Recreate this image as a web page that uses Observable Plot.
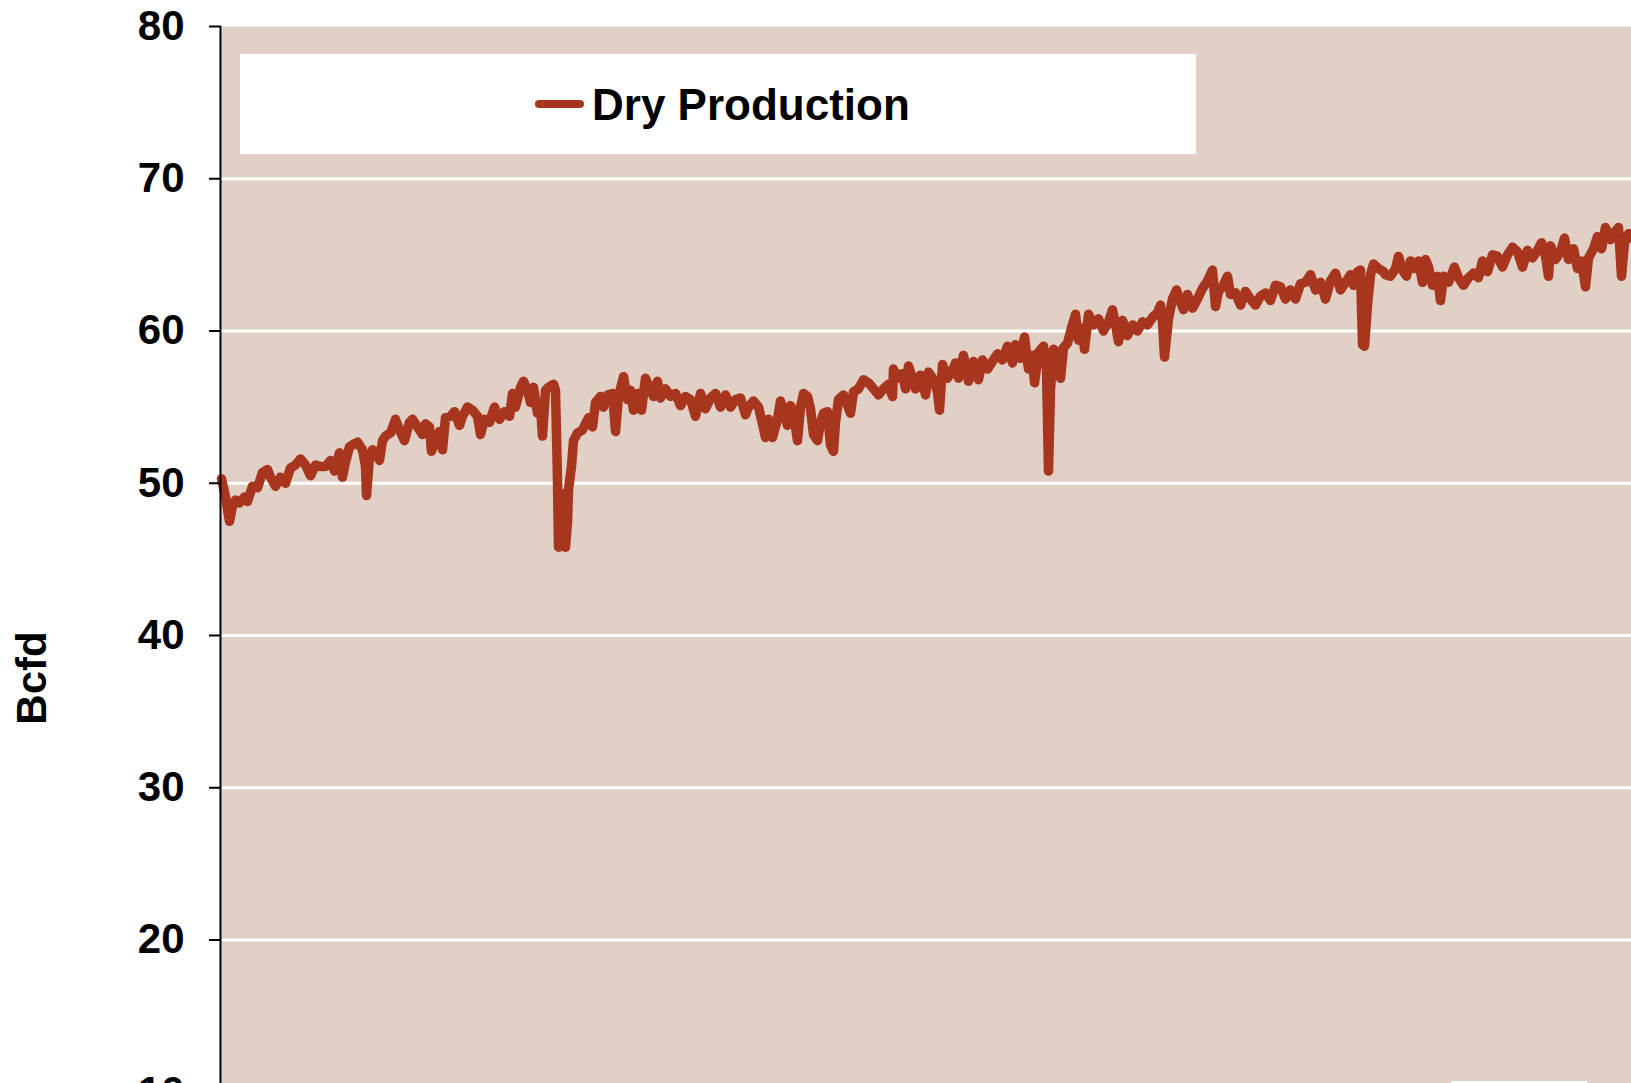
<!DOCTYPE html>
<html>
<head>
<meta charset="utf-8">
<script src="https://cdn.jsdelivr.net/npm/d3@7"></script>
<script src="https://cdn.jsdelivr.net/npm/@observablehq/plot@0.6"></script>
<style>
  html, body { margin: 0; padding: 0; overflow: hidden; background: #fff; }
  #wrap { position: relative; width: 1631px; height: 1083px; overflow: hidden; }
  #wrap svg { display: block; }
  #legend { position: absolute; left: 240px; top: 54px; width: 956px; height: 100px; background: #fff;
            font-family: "Liberation Sans", Arial, sans-serif; font-weight: bold; font-size: 44px; }
  #legend .sw { position: absolute; left: 295px; top: 46px; width: 49px; height: 8px; border-radius: 4px; }
  #legend .lb { position: absolute; left: 352px; top: 29px; line-height: 44px; color: #000; white-space: nowrap; }
  #ylab { position: absolute; left: 32px; top: 678px; transform: translate(-50%, -50%) rotate(-90deg);
          font-family: "Liberation Sans", Arial, sans-serif; font-weight: bold; font-size: 42px; line-height: 42px;
          color: #000; white-space: nowrap; }
  #note { position: absolute; left: 1451px; top: 1081px; width: 136px; height: 30px; background: #fff; }
</style>
</head>
<body>
<div id="wrap"></div>
<script>
// ---- data ----
const seriesName = "Dry Production";
const yLabel = "Bcfd";
const yTicks = [10, 20, 30, 40, 50, 60, 70, 80];
const gridLines = [10, 20, 30, 40, 50, 60, 70];

// day index since start of the record
const day = [
  0,4,8,11,14,18,23,26,31,36, 41,46,49,54,59,64,69,74,79,84,
  89,94,99,104,109,113,118,121,124,128, 133,136,141,144,145,148,151,154,158,161,
  164,169,174,178,183,188,191,196,201,204, 208,210,214,218,221,224,229,233,238,241,
  246,251,256,259,263,268,273,278,283,288,
  291,294,299,302,306,309,312,316,319,321, 324,327,332,334,336,337,341,342,344,346,
  347,350,352,356,361,364,367,371,374,379, 382,386,391,394,397,402,406,409,412,416,
  420,424,429,432,436,439,444,449,454,459, 464,469,474,479,484,489,494,499,504,509,
  514,519,524,527,532,537,541,544,547,551, 556,559,562,566,569,572,576,579,582,
  586,589,592,596,599,602,606,609,612,614, 617,622,626,629,632,637,642,647,652,657,
  662,667,671,672,676,681,684,687,691,694, 699,704,707,712,716,718,721,726,731,734,
  737,742,747,752,757,761,766,771,776,781, 786,791,794,799,803,807,811,813,817,822,
  825,827,829,832,836,839,842,846,850,854, 857,861,863,867,872,
  877,882,887,891,894,897,901,906,911,916, 921,926,931,936,939,941,943,947,951,955,
  959,962,966,971,976,981,986,991,994,997, 1001,1006,1009,1014,1019,1024,1029,1034,1039,1044,
  1049,1054,1059,1064,1069,1074,1079,1084,1089,1094, 1099,1104,1109,1114,1119,1124,1129,1132,1136,1139,
  1141,1143,1146,1149,1152,1157,1162,
  1164,1169,1174,1177,1181,1185,1189,1193,1197,1201, 1204,1207,1211,1216,1219,1222,1227,1233,1237,1242,
  1247,1252,1257,1261,1266,1271,1276,1281,1286,1291, 1296,1301,1306,1311,1316,1320,1324,1327,1329,1334,
  1339,1343,1347,1352,1356,1360,1364,1367,1372,1376, 1380,1384,1389,1392,1397,1400,1403,1407,1410
];

// dry gas production, Bcfd
const dryProduction = [
  50.3,49.1,47.5,48.5,48.9,48.7,49.1,48.8,49.8,49.7, 50.7,50.9,50.4,49.8,50.4,50.0,51.0,51.2,51.6,51.2,
  50.5,51.2,51.1,51.1,51.5,50.8,52.0,50.4,51.4,52.4, 52.6,52.7,52.2,51.1,49.2,51.7,52.2,52.0,51.5,52.8,
  53.1,53.3,54.2,53.5,52.8,54.0,54.2,53.7,53.2,53.9, 53.7,52.1,52.8,53.4,52.2,54.3,54.4,54.7,53.8,54.4,
  55.0,54.8,54.4,53.2,54.2,54.0,55.0,54.2,54.7,54.4,
  55.9,55.0,56.3,56.7,56.1,55.3,56.3,54.6,55.0,53.1, 56.1,56.3,56.5,56.1,50.2,45.8,46.3,49.3,45.8,47.4,
  49.6,51.1,52.8,53.3,53.5,53.9,54.3,53.7,55.3,55.7, 55.0,55.8,55.9,53.4,55.7,57.0,55.5,56.1,54.8,55.9,
  54.8,56.9,56.1,55.7,56.7,55.6,56.2,55.7,55.9,55.1, 55.7,55.5,54.4,55.9,54.9,55.6,55.9,55.0,55.8,55.0,
  55.5,55.6,54.5,55.0,55.4,55.0,53.9,53.0,54.2,53.0, 54.2,55.4,54.7,53.8,55.1,54.6,52.8,55.0,55.9,
  55.7,54.9,53.2,52.8,54.0,54.6,54.7,52.5,52.1,54.0, 55.5,55.8,55.1,54.6,56.0,56.2,56.8,56.6,56.2,55.8,
  56.2,56.5,55.7,57.5,56.9,57.2,56.2,57.7,56.9,56.2, 57.1,55.8,57.3,56.8,56.0,54.8,57.8,56.9,57.4,57.9,
  56.9,58.4,56.7,58.0,56.8,58.1,57.5,58.0,58.5,58.1, 59.0,57.9,59.1,58.2,59.6,57.5,58.4,56.6,58.6,59.0,
  57.5,50.8,56.2,58.8,58.6,56.9,58.9,59.2,60.2,61.1, 59.4,60.2,58.8,61.1,60.4,
  60.8,60.0,60.6,61.4,60.4,59.3,60.7,59.7,60.4,60.0, 60.6,60.4,60.9,61.2,61.7,60.6,58.3,60.8,62.1,62.7,
  61.9,61.4,62.4,61.5,62.1,62.8,63.3,64.0,61.6,62.6, 62.9,63.6,62.4,62.5,61.7,62.6,62.1,61.7,62.3,62.5,
  62.0,63.0,62.9,62.1,62.7,62.1,63.1,63.2,63.7,62.7, 63.2,62.1,63.3,63.8,62.7,63.2,63.7,63.0,63.9,64.0,
  59.1,59.0,61.7,63.7,64.4,64.1,63.9,
  63.7,63.6,64.1,64.9,64.0,63.6,64.6,64.1,64.6,63.2, 64.7,64.2,63.0,63.6,62.0,63.6,63.2,64.2,63.5,63.0,
  63.5,63.8,63.5,64.6,63.9,65.0,64.9,64.2,65.0,65.5, 65.2,64.2,65.3,64.8,65.3,65.8,64.9,63.6,65.6,64.7,
  65.2,66.1,64.7,65.4,64.1,64.6,62.9,64.8,65.4,66.2, 65.4,66.8,66.0,66.4,66.8,63.6,65.8,66.4,66.1
];

const lineColor = "#A8361F";
const bgColor = "#E0D0C6";

const data = day.map((d, i) => ({day: d, bcfd: dryProduction[i]}));
if (day.length !== dryProduction.length) console.error("length mismatch", day.length, dryProduction.length);

const font = '"Liberation Sans", Arial, sans-serif';

const chart = Plot.plot({
  width: 1631,
  height: 1270,
  marginLeft: 221,
  marginRight: 0,
  marginTop: 26,
  marginBottom: 26,
  style: {fontFamily: font, background: "white", color: "black", overflow: "visible"},
  x: {domain: [0, 1410], axis: null},
  y: {domain: [0, 80]},
  marks: [
    Plot.frame({fill: bgColor, stroke: "none"}),
    Plot.ruleY(gridLines, {stroke: "white", strokeWidth: 3}),
    Plot.line(data, {x: "day", y: "bcfd", stroke: lineColor, strokeWidth: 9.5,
                     strokeLinejoin: "round", strokeLinecap: "round"}),
    Plot.ruleX([0], {y1: 0, y2: 80, stroke: "black", strokeWidth: 2, dx: -1}),
    Plot.axisY(yTicks, {tickSize: 12, tickPadding: 25, fontSize: 42, fontWeight: "bold",
                        stroke: "black", strokeWidth: 2, fill: "black", label: null})
  ]
});

const wrap = document.getElementById("wrap");
wrap.appendChild(chart);

const legend = document.createElement("div");
legend.id = "legend";
legend.innerHTML = `<div class="sw" style="background:${lineColor}"></div><span class="lb">${seriesName}</span>`;
wrap.appendChild(legend);

const ylab = document.createElement("div");
ylab.id = "ylab";
ylab.textContent = yLabel;
wrap.appendChild(ylab);

const note = document.createElement("div");
note.id = "note";
wrap.appendChild(note);
</script>
</body>
</html>
